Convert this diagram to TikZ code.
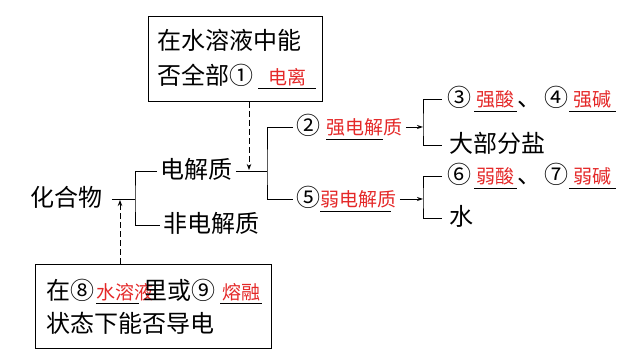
\documentclass[tikz,border=0pt]{standalone}
\usepackage{fontspec}
\setmainfont{Noto Sans CJK SC}
\usetikzlibrary{arrows.meta}

\definecolor{ansred}{RGB}{228,40,40}
\newcommand{\ansfont}{\fontsize{19}{19}\selectfont\color{ansred}}
% blank of fixed width, answer set in it
\newcommand{\fillin}[3][c]{\rlap{\rule[-4.5pt]{#2}{0.8pt}}\makebox[#2][#1]{\ansfont #3}}
% blank whose answer keeps its own width
\newcommand{\fillnat}[2]{\rlap{\rule[-4.5pt]{#1}{0.8pt}}{\ansfont #2}}

\begin{document}
\begin{tikzpicture}[
        x=1pt, y=-1pt,
        line width=0.9pt,
        font=\fontsize{24}{35}\selectfont,
        term/.style={
            anchor=west,
            inner xsep=3pt,
            inner ysep=0pt,
            text height=20pt,
            text depth=4pt
        },
        infobox/.style={
            draw,
            anchor=north west,
            align=left,
            inner sep=0pt
        },
        hint/.style={
            line width=1pt,
            dash pattern=on 6pt off 3pt,
            -{Stealth[length=6pt,width=4.5pt]}
        },
        lead/.style={-{Stealth[length=6pt,width=4pt]}}
    ]
    \useasboundingbox (0,0) rectangle (640,363);

    % question boxes
    \node[infobox, text width=162pt, minimum height=85pt, inner xsep=6pt]
        (solbox) at (148,16) {\hspace{3pt}在水溶液中能\\\hspace{3pt}否全部①\hspace{5pt}\fillin{58pt}{电离}};
    \node[infobox, text width=222pt, minimum height=84pt, inner xsep=7pt,
        font=\fontsize{24}{33}\selectfont]
        (condbox) at (35,264) {\hspace{4pt}在⑧\hspace{2pt}\fillin[l]{43pt}{水溶液}\hspace{4pt}里或⑨\hspace{5pt}\fillin{42pt}{熔融}\\\hspace{4pt}状态下能否导电};

    % first split
    \node[term] (compound) at (27,199) {化合物};
    \node[term] (elec) at (157,171) {电解质};
    \node[term] (nonelec) at (160,225) {非电解质};
    \coordinate (fork1) at (135,199);
    \draw ([xshift=6pt]compound.east) -- (fork1);
    \draw (elec.west) -| (fork1) |- (nonelec.west);

    % strong / weak
    \node[term] (strong) at (293,127) {②\hspace{6pt}\fillnat{57pt}{强电解质}};
    \node[term] (weak) at (293,199) {⑤\fillnat{71pt}{弱电解质}};
    \coordinate (fork2) at (267,171);
    \draw (elec.east) -- (fork2);
    \draw (strong.west) -| (fork2) |- (weak.west);

    % members
    \node[term] (strongacid) at (444,99) {③\hspace{3pt}\fillin{43pt}{强酸}、\hspace{3pt}④\hspace{1pt}\fillin{47pt}{强碱}};
    \node[term] (salt) at (446,145) {大部分盐};
    \node[term] (weakacid) at (444,176) {⑥\hspace{3pt}\fillin{43pt}{弱酸}、\hspace{3pt}⑦\hspace{1pt}\fillin{47pt}{弱碱}};
    \node[term] (water) at (446,218) {水};
    \coordinate (fork3) at (423,127);
    \coordinate (fork4) at (423,199);
    \draw[lead] (strong.east) -- (fork3);
    \draw[lead] (weak.east) -- (fork4);
    \draw ([xshift=-2pt]strongacid.west) -| (fork3) |- ([xshift=-4pt]salt.west);
    \draw ([xshift=-2pt]weakacid.west) -| (fork4) |- ([xshift=-4pt]water.west);

    % dashed hints
    \coordinate (hit1) at (249,170);
    \coordinate (hit2) at (120,200);
    \draw[hint] (solbox.south -| hit1) -- (hit1);
    \draw[hint] (condbox.north -| hit2) -- (hit2);
\end{tikzpicture}
\end{document}
